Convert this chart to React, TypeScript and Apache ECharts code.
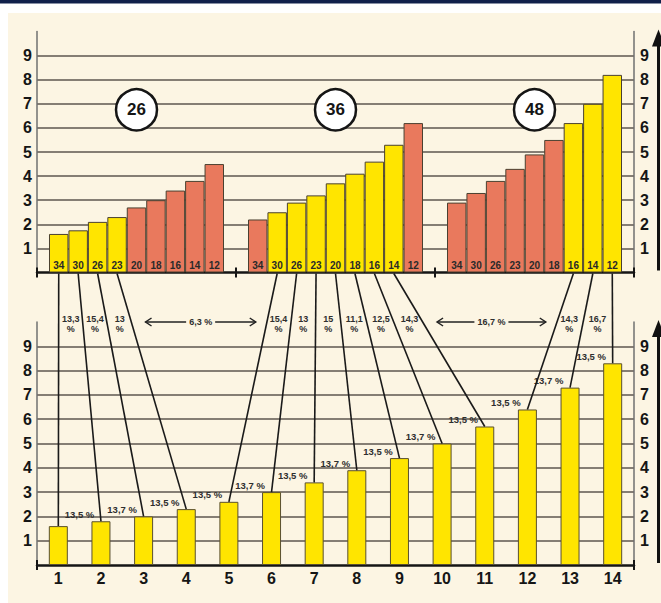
import React, { useEffect, useRef } from 'react';
import * as echarts from 'echarts';

// ---- data ----
const chainrings = [26, 36, 48];
const cogs = ['34', '30', '26', '23', '20', '18', '16', '14', '12'];
const ring26Heights = [1.6, 1.75, 2.1, 2.3, 2.7, 3.0, 3.4, 3.8, 4.5];
const ring36Heights = [2.2, 2.5, 2.9, 3.2, 3.7, 4.1, 4.6, 5.3, 6.2];
const ring48Heights = [2.9, 3.3, 3.8, 4.3, 4.9, 5.5, 6.2, 7.0, 8.2];

const gearNumbers = ['1', '2', '3', '4', '5', '6', '7', '8', '9', '10', '11', '12', '13', '14'];
const gearRings = [26, 26, 26, 26, 36, 36, 36, 36, 36, 36, 36, 48, 48, 48];
const gearCogs = ['34', '30', '26', '23', '30', '26', '23', '20', '18', '16', '14', '16', '14', '12'];
const gearHeights = [1.6, 1.8, 2.0, 2.3, 2.6, 3.0, 3.4, 3.9, 4.4, 5.0, 5.7, 6.4, 7.3, 8.3];
const gearSteps = ['', '13,5 %', '13,7 %', '13,5 %', '13,5 %', '13,7 %', '13,5 %', '13,7 %', '13,5 %', '13,7 %', '13,5 %', '13,5 %', '13,7 %', '13,5 %'];

const cogSteps26 = ['13,3 %', '15,4 %', '13 %'];
const cogSteps36 = ['15,4 %', '13 %', '15 %', '11,1 %', '12,5 %', '14,3 %'];
const cogSteps48 = ['14,3 %', '16,7 %'];
const ringJumps = ['6,3 %', '16,7 %'];

const yTickLabels = ['1', '2', '3', '4', '5', '6', '7', '8', '9'];

export default function App() {
  const ref = useRef<HTMLDivElement>(null);

  useEffect(() => {
    const el = ref.current as HTMLDivElement;
    const chart = echarts.init(el, null, { renderer: 'svg', width: 661, height: 603 });

    const FL = 37;
    const FR = 634;
    const topT = 31.5;
    const topB = 272.5;
    const botT = 322;
    const botB = 565;
    const frameW = FR - FL;
    const groupW = frameW / 3;
    const inset = 12;
    const badgeLevel = 6.75;
    const yellow = '#FFE500';
    const red = '#E9795D';
    const cream = '#FCF5E3';
    const ink = '#151515';
    const font = "'Liberation Sans', Arial, sans-serif";

    const ringHeights = [ring26Heights, ring36Heights, ring48Heights];
    const ringSteps = [cogSteps26, cogSteps36, cogSteps48];
    const used = (g: number, c: number) =>
      gearRings.some((r, k) => r === chainrings[g] && gearCogs[k] === cogs[c]);

    const grids: any[] = [
      { left: FL, width: frameW, top: topT, height: topB - topT },
      ...[0, 1, 2].map((g) => ({
        left: FL + g * groupW + inset,
        width: groupW - 2 * inset,
        top: topT,
        height: topB - topT,
      })),
      { left: FL, width: frameW, top: botT, height: botB - botT },
    ].map((g) => ({ ...g, containLabel: false, outerBoundsMode: 'none' }));

    const yLabel = {
      fontFamily: font,
      fontWeight: 'bold',
      fontSize: 16,
      color: ink,
      formatter: (v: number) => (yTickLabels.indexOf(String(v)) >= 0 ? String(v) : ''),
    };
    const yBase = { type: 'value', min: 0, max: 10, interval: 1 };
    const yLeft = (gi: number) => ({
      ...yBase,
      gridIndex: gi,
      position: 'left',
      axisLine: { show: true, lineStyle: { color: '#707070', width: 1.5 } },
      axisTick: { show: false },
      axisLabel: { ...yLabel, margin: 5 },
      splitLine: {
        show: true,
        showMinLine: false,
        showMaxLine: false,
        lineStyle: { color: '#857e74', width: 2 },
      },
    });
    const yRight = (gi: number) => ({
      ...yBase,
      gridIndex: gi,
      position: 'right',
      axisLine: { show: true, lineStyle: { color: '#707070', width: 1.5 } },
      axisTick: { show: false },
      axisLabel: { ...yLabel, margin: 6 },
      splitLine: { show: false },
    });
    const yHidden = (gi: number) => ({ ...yBase, gridIndex: gi, show: false });

    const baseLine = { show: true, onZero: false, lineStyle: { color: ink, width: 2.5 } };
    const tickOut = { show: true, length: 5, lineStyle: { color: ink, width: 2 } };
    const tickIn = { show: true, inside: true, length: 5, lineStyle: { color: ink, width: 2 } };

    const xAxis: any[] = [
      {
        type: 'category', gridIndex: 0, position: 'bottom', data: chainrings.map(String),
        axisLine: baseLine, axisTick: tickOut, axisLabel: { show: false }, splitLine: { show: false },
      },
      {
        type: 'category', gridIndex: 0, position: 'bottom', data: chainrings.map(String),
        axisLine: { show: false }, axisTick: tickIn, axisLabel: { show: false }, splitLine: { show: false },
      },
      ...[0, 1, 2].map((g) => ({ type: 'category', gridIndex: 1 + g, position: 'bottom', data: cogs, show: false })),
      {
        type: 'category', gridIndex: 4, position: 'bottom', data: gearNumbers,
        axisLine: baseLine, axisTick: { show: false },
        axisLabel: { fontFamily: font, fontWeight: 'bold', fontSize: 16, color: ink, margin: 5, interval: 0 },
        splitLine: { show: false },
      },
      {
        type: 'category', gridIndex: 4, position: 'bottom', data: [''],
        axisLine: { show: false }, axisTick: tickOut, axisLabel: { show: false }, splitLine: { show: false },
      },
      {
        type: 'category', gridIndex: 4, position: 'bottom', data: [''],
        axisLine: { show: false }, axisTick: tickIn, axisLabel: { show: false }, splitLine: { show: false },
      },
    ];

    const yAxis: any[] = [yLeft(0), yRight(0), yHidden(1), yHidden(2), yHidden(3), yLeft(4), yRight(4)];

    const series: any[] = [
      ...ringHeights.map((hs, g) => ({
        type: 'bar',
        xAxisIndex: 2 + g,
        yAxisIndex: 2 + g,
        barCategoryGap: '0%',
        data: hs.map((v, c) => ({ value: v, itemStyle: { color: used(g, c) ? yellow : red } })),
        itemStyle: { borderColor: '#4a4030', borderWidth: 1 },
        label: {
          show: true,
          position: 'insideBottom',
          distance: 2,
          formatter: '{b}',
          fontFamily: font,
          fontWeight: 'bold',
          fontSize: 10,
          color: '#2a2a2a',
        },
        z: 3,
      })),
      ...chainrings.map((r, g) => ({
        type: 'scatter',
        xAxisIndex: 2 + g,
        yAxisIndex: 2 + g,
        symbol: 'circle',
        symbolSize: 41,
        data: [[Math.floor(cogs.length / 2), badgeLevel]],
        itemStyle: { color: '#ffffff', borderColor: ink, borderWidth: 2.5, opacity: 1 },
        label: {
          show: true,
          position: 'inside',
          formatter: String(r),
          fontFamily: font,
          fontWeight: 'bold',
          fontSize: 17,
          color: ink,
        },
        z: 5,
      })),
      {
        type: 'bar',
        xAxisIndex: 5,
        yAxisIndex: 5,
        data: gearHeights,
        barWidth: 19,
        itemStyle: { color: yellow, borderColor: '#5a5030', borderWidth: 1 },
        label: {
          show: true,
          position: [-12, -7],
          align: 'center',
          verticalAlign: 'middle',
          formatter: (p: any) => gearSteps[p.dataIndex],
          fontFamily: font,
          fontWeight: 'bold',
          fontSize: 9.5,
          color: '#2e2e2e',
        },
        z: 3,
      },
    ];

    chart.setOption({
      animation: false,
      backgroundColor: cream,
      grid: grids,
      xAxis,
      yAxis,
      series,
    });

    // ---- connecting lines and annotations, through the library's coordinate conversion ----
    const topPt = (g: number, cog: string) =>
      chart.convertToPixel({ xAxisIndex: 2 + g, yAxisIndex: 2 + g } as any, [cog, 0]) as number[];
    const botPt = (k: number) =>
      chart.convertToPixel({ xAxisIndex: 5, yAxisIndex: 5 } as any, [k, gearHeights[k]]) as number[];
    const yPix = (axis: number, xAxis: number, v: number) =>
      (chart.convertToPixel({ xAxisIndex: xAxis, yAxisIndex: axis } as any, [0, v]) as number[])[1];

    const links = gearRings.map((r, k) => {
      const g = chainrings.indexOf(r);
      return { g, a: topPt(g, gearCogs[k]), b: botPt(k) };
    });
    const xAt = (L: any, y: number) => L.a[0] + ((L.b[0] - L.a[0]) * (y - L.a[1])) / (L.b[1] - L.a[1]);

    const graphics: any[] = [];
    // page frame
    graphics.push({ type: 'rect', shape: { x: 0, y: 0, width: 661, height: 13 }, style: { fill: '#ffffff' }, silent: true });
    graphics.push({ type: 'rect', shape: { x: 0, y: 0, width: 8, height: 603 }, style: { fill: '#ffffff' }, silent: true });
    graphics.push({ type: 'rect', shape: { x: 0, y: 0, width: 661, height: 3.5 }, style: { fill: '#10204a' }, silent: true });

    links.forEach((L) => {
      graphics.push({
        type: 'line',
        shape: { x1: L.a[0], y1: L.a[1] + 1, x2: L.b[0], y2: L.b[1] },
        style: { stroke: '#1a1a1a', lineWidth: 1.6 },
        z: 10,
      });
    });

    const botTop = yPix(5, 5, 10);
    const labelY = botTop + 2;
    const stepFont = { fontFamily: font, fontWeight: 'bold', fontSize: 9 };
    ringSteps.forEach((steps, g) => {
      const grp = links.filter((L) => L.g === g);
      steps.forEach((s, i) => {
        const x = (xAt(grp[i], labelY) + xAt(grp[i + 1], labelY)) / 2;
        graphics.push({
          type: 'text',
          x,
          y: labelY,
          style: {
            text: s.replace(' ', '\n'),
            ...stepFont,
            fill: '#2e2e2e',
            align: 'center',
            verticalAlign: 'middle',
            lineHeight: 9.5,
          },
          z: 11,
        });
      });
    });

    ringJumps.forEach((s, g) => {
      const last = links.filter((L) => L.g === g).slice(-1)[0];
      const first = links.filter((L) => L.g === g + 1)[0];
      const y = botTop;
      const x1 = xAt(last, y) + 14;
      const x2 = xAt(first, y) - 11;
      graphics.push({ type: 'line', shape: { x1, y1: y, x2, y2: y }, style: { stroke: '#222', lineWidth: 1.3 }, z: 11 });
      graphics.push({ type: 'polyline', shape: { points: [[x1 + 6, y - 4], [x1, y], [x1 + 6, y + 4]] }, style: { stroke: '#222', lineWidth: 1.5, fill: 'none' }, z: 11 });
      graphics.push({ type: 'polyline', shape: { points: [[x2 - 6, y - 4], [x2, y], [x2 - 6, y + 4]] }, style: { stroke: '#222', lineWidth: 1.5, fill: 'none' }, z: 11 });
      graphics.push({
        type: 'text',
        x: (x1 + x2) / 2,
        y,
        style: {
          text: s,
          ...stepFont,
          fill: '#2e2e2e',
          align: 'center',
          verticalAlign: 'middle',
          backgroundColor: cream,
          padding: [1, 3],
        },
        z: 12,
      });
    });

    // upward arrows on the right
    const arrowX = 658.5;
    [[0, 0], [5, 5]].forEach(([ya, xa]) => {
      const y0 = yPix(ya, xa, 0);
      const y10 = yPix(ya, xa, 10);
      graphics.push({ type: 'line', shape: { x1: arrowX, y1: y0 - 2, x2: arrowX, y2: y10 + 12 }, style: { stroke: '#111', lineWidth: 3 }, z: 10 });
      graphics.push({ type: 'polygon', shape: { points: [[arrowX, y10 - 2], [arrowX - 6.5, y10 + 15], [arrowX + 6.5, y10 + 15]] }, style: { fill: '#111' }, z: 10 });
    });

    chart.setOption({ graphic: graphics });

    return () => {
      chart.dispose();
    };
  }, []);

  return (
    <div
      ref={ref}
      style={{ position: 'absolute', left: 0, top: 0, width: 661, height: 603 }}
    />
  );
}
